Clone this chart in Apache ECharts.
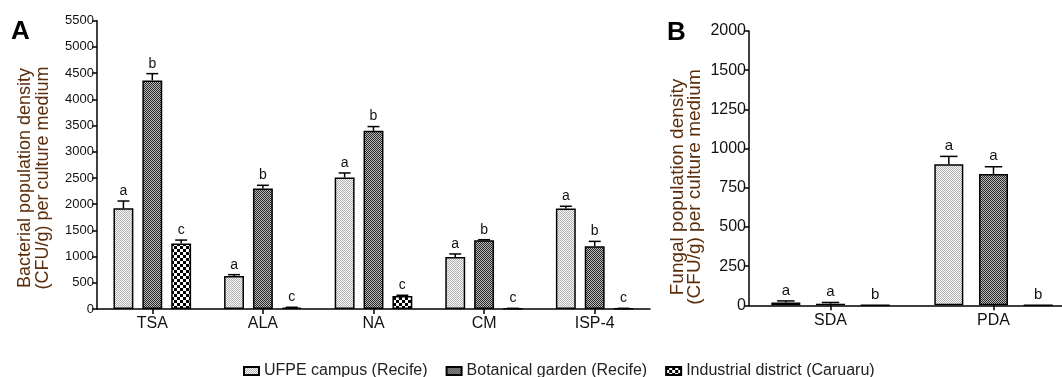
<!DOCTYPE html>
<html>
<head>
<meta charset="utf-8">
<script src="https://cdn.jsdelivr.net/npm/echarts@6/dist/echarts.min.js"></script>
<style>
html,body{margin:0;padding:0;background:#fff;overflow:hidden;width:1062px;height:377px;}
#chart{width:1100px;height:377px;}
</style>
</head>
<body>
<div id="chart"></div>
<script>
// ---------- data ----------
var seriesNames = ['UFPE campus (Recife)', 'Botanical garden (Recife)', 'Industrial district (Caruaru)'];

var catsA = ['TSA', 'ALA', 'NA', 'CM', 'ISP-4'];
var ufpeA = [1920, 630, 2510, 990, 1915];
var ufpeAErr = [140, 25, 85, 60, 45];
var botA = [4360, 2300, 3400, 1310, 1195];
var botAErr = [130, 60, 80, 12, 95];
var indA = [1250, 25, 250, 10, 10];
var indAErr = [65, 8, 12, 3, 3];
var lettersA = [['a','a','a','a','a'], ['b','b','b','b','b'], ['c','c','c','c','c']];
var ticksA = ['0','500','1000','1500','2000','2500','3000','3500','4000','4500','5000','5500'];

var catsB = ['SDA', 'PDA'];
var ufpeB = [18, 900];
var ufpeBErr = [10, 50];
var botB = [10, 838];
var botBErr = [8, 46];
var indB = [0, 0];
var indBErr = [0, 0];
var lettersB = [['a','a'], ['a','a'], ['b','b']];
// broken axis in panel B: last tick reads 2000
var ticksB = ['0','250','500','750','1000','1250','1500','2000'];

var titleA = 'Bacterial population density\n(CFU/g) per culture medium';
var titleB = 'Fungal population density\n(CFU/g) per culture medium';

// ---------- patterns ----------
function pattern(size, painter) {
  var c = document.createElement('canvas');
  c.width = size; c.height = size;
  var ctx = c.getContext('2d');
  painter(ctx);
  return {image: c, repeat: 'repeat'};
}
var patUfpe = pattern(2, function (ctx) {
  ctx.fillStyle = '#f6f6f6'; ctx.fillRect(0, 0, 2, 2);
  ctx.fillStyle = '#b4b4b4'; ctx.fillRect(0, 0, 1, 1); ctx.fillRect(1, 1, 1, 1);
});
var patBot = pattern(2, function (ctx) {
  ctx.fillStyle = '#b8b8b8'; ctx.fillRect(0, 0, 2, 2);
  ctx.fillStyle = '#2a2a2a'; ctx.fillRect(0, 0, 1, 1); ctx.fillRect(1, 1, 1, 1);
});
var patInd = pattern(6, function (ctx) {
  ctx.fillStyle = '#ffffff'; ctx.fillRect(0, 0, 6, 6);
  ctx.fillStyle = '#000000'; ctx.fillRect(0, 0, 3, 3); ctx.fillRect(3, 3, 3, 3);
});
var patterns = [patUfpe, patBot, patInd];

var FONT = '"Liberation Sans", Arial, sans-serif';

// ---------- build ----------
function barSeries(name, data, pat, xi, widthPct, gapPct) {
  return {
    type: 'bar', name: name, data: data, xAxisIndex: xi, yAxisIndex: xi,
    barWidth: widthPct + '%', barGap: gapPct + '%',
    itemStyle: {color: pat, borderColor: '#000', borderWidth: 1.5},
    emphasis: {disabled: true}, z: 2
  };
}

function errSeries(xi, vals, errs, letters, widthPct, gapPct, fontSize) {
  var data = [];
  for (var g = 0; g < vals.length; g++) {
    for (var i = 0; i < vals[g].length; i++) {
      data.push([i, vals[g][i], errs[g][i], g]);
    }
  }
  return {
    type: 'custom', xAxisIndex: xi, yAxisIndex: xi, z: 5, silent: true,
    data: data,
    encode: {x: 0, y: 1},
    renderItem: function (params, api) {
      var cat = api.value(0), v = api.value(1), e = api.value(2), g = api.value(3);
      var band = api.size([1, 0])[0];
      var bw = band * widthPct / 100;
      var off = (g - 1) * bw * (1 + gapPct / 100);
      var base = api.coord([cat, v]);
      var top = api.coord([cat, v + e]);
      var x = base[0] + off;
      var children = [];
      if (e > 0) {
        children.push({type: 'line', shape: {x1: x, y1: base[1], x2: x, y2: top[1]}, style: {stroke: '#000', lineWidth: 1.5}});
        children.push({type: 'line', shape: {x1: x - bw * 0.3, y1: top[1], x2: x + bw * 0.3, y2: top[1]}, style: {stroke: '#000', lineWidth: 1.5}});
      }
      children.push({type: 'text', x: x, y: top[1] - 3, style: {
        text: letters[g][cat], font: fontSize + 'px ' + FONT, fill: '#111',
        textAlign: 'center', textVerticalAlign: 'bottom'}});
      return {type: 'group', children: children};
    }
  };
}

var axisLine = {show: true, lineStyle: {color: '#000', width: 1.5}};
var axisTick = {show: true, length: 5, lineStyle: {color: '#000', width: 1.5}};
var catTick = {show: true, alignWithLabel: true, length: 5, lineStyle: {color: '#000', width: 1.5}};

var option = {
  animation: false,
  backgroundColor: '#fff',
  textStyle: {fontFamily: FONT},
  legend: {
    data: seriesNames, left: 238, top: 358, itemWidth: 15, itemHeight: 8, itemGap: 18,
    icon: 'rect',
    textStyle: {fontSize: 16, color: '#222', fontFamily: FONT},
    selectedMode: false
  },
  grid: [
    {left: 97, top: 20.7, height: 288.3, width: 553},
    {left: 749, top: 31, height: 274.3, width: 326}
  ],
  xAxis: [
    {type: 'category', gridIndex: 0, data: catsA, axisLine: axisLine, axisTick: catTick,
     axisLabel: {fontSize: 16, color: '#111', margin: 7, fontFamily: FONT}},
    {type: 'category', gridIndex: 1, data: catsB, axisLine: axisLine, axisTick: catTick,
     axisLabel: {fontSize: 16, color: '#111', margin: 7, fontFamily: FONT}}
  ],
  yAxis: [
    {type: 'value', gridIndex: 0, min: 0, max: 5500, interval: 500,
     axisLine: axisLine, axisTick: axisTick, splitLine: {show: false},
     axisLabel: {fontSize: 13, color: '#111', margin: 3, fontFamily: FONT,
       formatter: function (v) { return ticksA[Math.round(v / 500)]; }}},
    {type: 'value', gridIndex: 1, min: 0, max: 1750, interval: 250,
     axisLine: axisLine, axisTick: axisTick, splitLine: {show: false},
     axisLabel: {fontSize: 16, color: '#111', margin: 3, fontFamily: FONT,
       formatter: function (v) { return ticksB[Math.round(v / 250)]; }}}
  ],
  graphic: [
    {type: 'text', x: 34, y: 178, rotation: Math.PI / 2, style: {text: titleA, font: '18px ' + FONT, fill: '#5a2d0c', textAlign: 'center', textVerticalAlign: 'middle', lineHeight: 18}},
    {type: 'text', x: 686, y: 187, rotation: Math.PI / 2, style: {text: titleB, font: '19px ' + FONT, fill: '#5a2d0c', textAlign: 'center', textVerticalAlign: 'middle', lineHeight: 17}},
    {type: 'text', x: 11, y: 19, style: {text: 'A', font: 'bold 26px ' + FONT, fill: '#000'}},
    {type: 'text', x: 667, y: 20, style: {text: 'B', font: 'bold 26px ' + FONT, fill: '#000'}}
  ],
  series: [
    barSeries(seriesNames[0], ufpeA, patterns[0], 0, 18, 45),
    barSeries(seriesNames[1], botA, patterns[1], 0, 18, 45),
    barSeries(seriesNames[2], indA, patterns[2], 0, 18, 45),
    barSeries(seriesNames[0], ufpeB, patterns[0], 1, 17.8, 54),
    barSeries(seriesNames[1], botB, patterns[1], 1, 17.8, 54),
    barSeries(seriesNames[2], indB, patterns[2], 1, 17.8, 54),
    errSeries(0, [ufpeA, botA, indA], [ufpeAErr, botAErr, indAErr], lettersA, 18, 45, 14),
    errSeries(1, [ufpeB, botB, indB], [ufpeBErr, botBErr, indBErr], lettersB, 17.8, 54, 15)
  ]
};

var chart = echarts.init(document.getElementById('chart'), null, {renderer: 'canvas'});
chart.setOption(option);
</script>
</body>
</html>
